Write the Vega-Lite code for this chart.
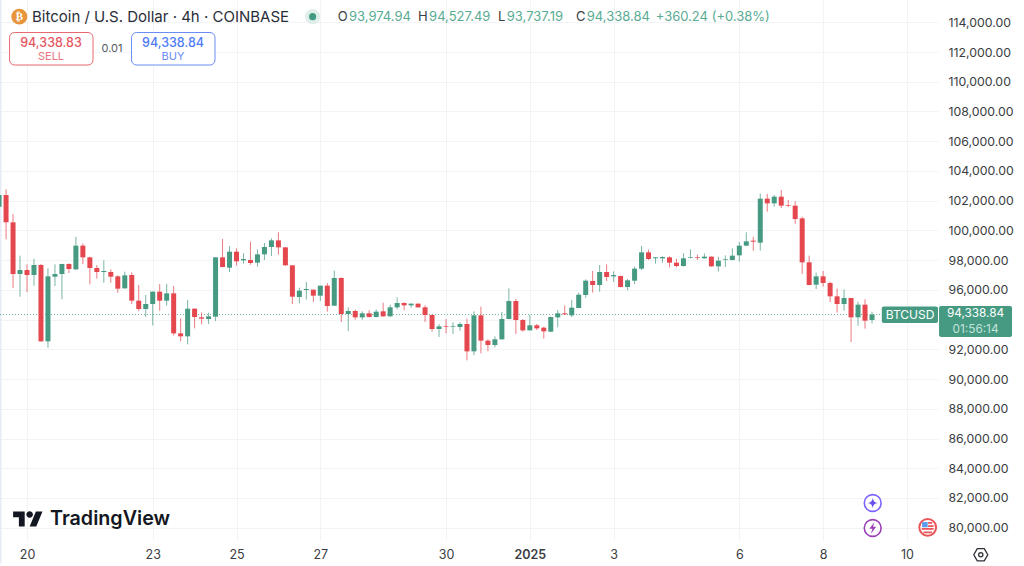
{
"$schema":"https://vega.github.io/schema/vega-lite/v6.json",
"autosize":{"type":"none"},
"padding":{"left":0,"top":0,"right":86,"bottom":26},
"width":938,"height":540,
"background":"white",
"config":{"font":"Inter","view":{"stroke":null}},
"resolve":{"axis":{"y":"independent"}},
"datasets":{"candles":[
{"t":"2024-12-19T08:00:00Z","o":101595,"h":102400,"l":101400,"c":102380},
{"t":"2024-12-19T12:00:00Z","o":102380,"h":102761,"l":99398,"c":100542},
{"t":"2024-12-19T16:00:00Z","o":100542,"h":101102,"l":96124,"c":97066},
{"t":"2024-12-19T20:00:00Z","o":97066,"h":98299,"l":95541,"c":97335},
{"t":"2024-12-20T00:00:00Z","o":97335,"h":97716,"l":95833,"c":96999},
{"t":"2024-12-20T04:00:00Z","o":96999,"h":98097,"l":96281,"c":97671},
{"t":"2024-12-20T08:00:00Z","o":97671,"h":97739,"l":92500,"c":92537},
{"t":"2024-12-20T12:00:00Z","o":92537,"h":97447,"l":92111,"c":96909},
{"t":"2024-12-20T16:00:00Z","o":96887,"h":97716,"l":96259,"c":97066},
{"t":"2024-12-20T20:00:00Z","o":97066,"h":97760,"l":95362,"c":97739},
{"t":"2024-12-21T00:00:00Z","o":97739,"h":97784,"l":97133,"c":97402},
{"t":"2024-12-21T04:00:00Z","o":97380,"h":99577,"l":97335,"c":98972},
{"t":"2024-12-21T08:00:00Z","o":98972,"h":99129,"l":97739,"c":98187},
{"t":"2024-12-21T12:00:00Z","o":98187,"h":98232,"l":96371,"c":97470},
{"t":"2024-12-21T16:00:00Z","o":97470,"h":97671,"l":96752,"c":97201},
{"t":"2024-12-21T20:00:00Z","o":97201,"h":97985,"l":96483,"c":97268},
{"t":"2024-12-22T00:00:00Z","o":97201,"h":97380,"l":96483,"c":96887},
{"t":"2024-12-22T04:00:00Z","o":96909,"h":96976,"l":95810,"c":96079},
{"t":"2024-12-22T08:00:00Z","o":96102,"h":97223,"l":96079,"c":96976},
{"t":"2024-12-22T12:00:00Z","o":96999,"h":97178,"l":95048,"c":95272},
{"t":"2024-12-22T16:00:00Z","o":95272,"h":96326,"l":94577,"c":94712},
{"t":"2024-12-22T20:00:00Z","o":94712,"h":95653,"l":94173,"c":95048},
{"t":"2024-12-23T00:00:00Z","o":95048,"h":95900,"l":93613,"c":95878},
{"t":"2024-12-23T04:00:00Z","o":95878,"h":96393,"l":94599,"c":95272},
{"t":"2024-12-23T08:00:00Z","o":95272,"h":96393,"l":94936,"c":95765},
{"t":"2024-12-23T12:00:00Z","o":95765,"h":96259,"l":92940,"c":93075},
{"t":"2024-12-23T16:00:00Z","o":93075,"h":94084,"l":92537,"c":92873},
{"t":"2024-12-23T20:00:00Z","o":92873,"h":95317,"l":92335,"c":94734},
{"t":"2024-12-24T00:00:00Z","o":94734,"h":94756,"l":93411,"c":94173},
{"t":"2024-12-24T04:00:00Z","o":94151,"h":94487,"l":93680,"c":94061},
{"t":"2024-12-24T08:00:00Z","o":94039,"h":94465,"l":93703,"c":94218},
{"t":"2024-12-24T12:00:00Z","o":94196,"h":98210,"l":93904,"c":98187},
{"t":"2024-12-24T16:00:00Z","o":98187,"h":99420,"l":97514,"c":97537},
{"t":"2024-12-24T20:00:00Z","o":97492,"h":98950,"l":97201,"c":98568},
{"t":"2024-12-25T00:00:00Z","o":98568,"h":98793,"l":97627,"c":97918},
{"t":"2024-12-25T04:00:00Z","o":97985,"h":98456,"l":97761,"c":98075},
{"t":"2024-12-25T08:00:00Z","o":98008,"h":99241,"l":97694,"c":97806},
{"t":"2024-12-25T12:00:00Z","o":97828,"h":98725,"l":97559,"c":98389},
{"t":"2024-12-25T16:00:00Z","o":98389,"h":99151,"l":98008,"c":98882},
{"t":"2024-12-25T20:00:00Z","o":98882,"h":99465,"l":98277,"c":99331},
{"t":"2024-12-26T00:00:00Z","o":99331,"h":99869,"l":98367,"c":98860},
{"t":"2024-12-26T04:00:00Z","o":98860,"h":98880,"l":97627,"c":97650},
{"t":"2024-12-26T08:00:00Z","o":97649,"h":97670,"l":95048,"c":95541},
{"t":"2024-12-26T12:00:00Z","o":95519,"h":96147,"l":95093,"c":95945},
{"t":"2024-12-26T16:00:00Z","o":95990,"h":96528,"l":95340,"c":96057},
{"t":"2024-12-26T20:00:00Z","o":96013,"h":96030,"l":95183,"c":95609},
{"t":"2024-12-27T00:00:00Z","o":95609,"h":96282,"l":95250,"c":96282},
{"t":"2024-12-27T04:00:00Z","o":96282,"h":96461,"l":94533,"c":94914},
{"t":"2024-12-27T08:00:00Z","o":94936,"h":97291,"l":94914,"c":96797},
{"t":"2024-12-27T12:00:00Z","o":96797,"h":96842,"l":93838,"c":94376},
{"t":"2024-12-27T16:00:00Z","o":94376,"h":94824,"l":93232,"c":94578},
{"t":"2024-12-27T20:00:00Z","o":94578,"h":94667,"l":93995,"c":94151},
{"t":"2024-12-28T00:00:00Z","o":94151,"h":94555,"l":93995,"c":94421},
{"t":"2024-12-28T04:00:00Z","o":94421,"h":94622,"l":94151,"c":94174},
{"t":"2024-12-28T08:00:00Z","o":94174,"h":94690,"l":94151,"c":94533},
{"t":"2024-12-28T12:00:00Z","o":94555,"h":95138,"l":94196,"c":94219},
{"t":"2024-12-28T16:00:00Z","o":94219,"h":95004,"l":94200,"c":94824},
{"t":"2024-12-28T20:00:00Z","o":94824,"h":95497,"l":94690,"c":95116},
{"t":"2024-12-29T00:00:00Z","o":95116,"h":95161,"l":94622,"c":94959},
{"t":"2024-12-29T04:00:00Z","o":94959,"h":95093,"l":94802,"c":95071},
{"t":"2024-12-29T08:00:00Z","o":95071,"h":95093,"l":94802,"c":94824},
{"t":"2024-12-29T12:00:00Z","o":94824,"h":94959,"l":93838,"c":94308},
{"t":"2024-12-29T16:00:00Z","o":94308,"h":94353,"l":93187,"c":93367},
{"t":"2024-12-29T20:00:00Z","o":93367,"h":93703,"l":92829,"c":93546},
{"t":"2024-12-30T00:00:00Z","o":93568,"h":94039,"l":93075,"c":93524},
{"t":"2024-12-30T04:00:00Z","o":93524,"h":93815,"l":93030,"c":93568},
{"t":"2024-12-30T08:00:00Z","o":93501,"h":93815,"l":93255,"c":93703},
{"t":"2024-12-30T12:00:00Z","o":93703,"h":94062,"l":91259,"c":91864},
{"t":"2024-12-30T16:00:00Z","o":91864,"h":94555,"l":91595,"c":94286},
{"t":"2024-12-30T20:00:00Z","o":94286,"h":94869,"l":91730,"c":92582},
{"t":"2024-12-31T00:00:00Z","o":92582,"h":92672,"l":91864,"c":92290},
{"t":"2024-12-31T04:00:00Z","o":92290,"h":92873,"l":92133,"c":92672},
{"t":"2024-12-31T08:00:00Z","o":92672,"h":94510,"l":92660,"c":94039},
{"t":"2024-12-31T12:00:00Z","o":94039,"h":96102,"l":94017,"c":95250},
{"t":"2024-12-31T16:00:00Z","o":95250,"h":95385,"l":93030,"c":93972},
{"t":"2024-12-31T20:00:00Z","o":93972,"h":94039,"l":93187,"c":93277},
{"t":"2025-01-01T00:00:00Z","o":93277,"h":94331,"l":93265,"c":93613},
{"t":"2025-01-01T04:00:00Z","o":93613,"h":93703,"l":93299,"c":93412},
{"t":"2025-01-01T08:00:00Z","o":93456,"h":93524,"l":92716,"c":93210},
{"t":"2025-01-01T12:00:00Z","o":93187,"h":94196,"l":93165,"c":94174},
{"t":"2025-01-01T16:00:00Z","o":94151,"h":94645,"l":93479,"c":94421},
{"t":"2025-01-01T20:00:00Z","o":94421,"h":94959,"l":94308,"c":94353},
{"t":"2025-01-02T00:00:00Z","o":94286,"h":95317,"l":94174,"c":94802},
{"t":"2025-01-02T04:00:00Z","o":94779,"h":95811,"l":94770,"c":95676},
{"t":"2025-01-02T08:00:00Z","o":95654,"h":96708,"l":95474,"c":96618},
{"t":"2025-01-02T12:00:00Z","o":96596,"h":97269,"l":95811,"c":96327},
{"t":"2025-01-02T16:00:00Z","o":96327,"h":97672,"l":95878,"c":97201},
{"t":"2025-01-02T20:00:00Z","o":97201,"h":97717,"l":96596,"c":96865},
{"t":"2025-01-03T00:00:00Z","o":96910,"h":97246,"l":96529,"c":96999},
{"t":"2025-01-03T04:00:00Z","o":96932,"h":96955,"l":96170,"c":96192},
{"t":"2025-01-03T08:00:00Z","o":96192,"h":96730,"l":95968,"c":96641},
{"t":"2025-01-03T12:00:00Z","o":96618,"h":97560,"l":96394,"c":97425},
{"t":"2025-01-03T16:00:00Z","o":97425,"h":98950,"l":97336,"c":98524},
{"t":"2025-01-03T20:00:00Z","o":98524,"h":98704,"l":98008,"c":98076},
{"t":"2025-01-04T00:00:00Z","o":98121,"h":98210,"l":97762,"c":98188},
{"t":"2025-01-04T04:00:00Z","o":98121,"h":98255,"l":97829,"c":98210},
{"t":"2025-01-04T08:00:00Z","o":98188,"h":98255,"l":97515,"c":97829},
{"t":"2025-01-04T12:00:00Z","o":97829,"h":98098,"l":97515,"c":97605},
{"t":"2025-01-04T16:00:00Z","o":97605,"h":98457,"l":97560,"c":98121},
{"t":"2025-01-04T20:00:00Z","o":98143,"h":98726,"l":98121,"c":98188},
{"t":"2025-01-05T00:00:00Z","o":98210,"h":98367,"l":98008,"c":98165},
{"t":"2025-01-05T04:00:00Z","o":98121,"h":98457,"l":98098,"c":98233},
{"t":"2025-01-05T08:00:00Z","o":98233,"h":98255,"l":97560,"c":97582},
{"t":"2025-01-05T12:00:00Z","o":97582,"h":98233,"l":97224,"c":97964},
{"t":"2025-01-05T16:00:00Z","o":98031,"h":98322,"l":97538,"c":98076},
{"t":"2025-01-05T20:00:00Z","o":98008,"h":98793,"l":97986,"c":98300},
{"t":"2025-01-06T00:00:00Z","o":98322,"h":99219,"l":97896,"c":98973},
{"t":"2025-01-06T04:00:00Z","o":98973,"h":99870,"l":98950,"c":99264},
{"t":"2025-01-06T08:00:00Z","o":99309,"h":99578,"l":98636,"c":99242},
{"t":"2025-01-06T12:00:00Z","o":99174,"h":102471,"l":98636,"c":102134},
{"t":"2025-01-06T16:00:00Z","o":102134,"h":102448,"l":101260,"c":101820},
{"t":"2025-01-06T20:00:00Z","o":101820,"h":102381,"l":101596,"c":102269},
{"t":"2025-01-07T00:00:00Z","o":102269,"h":102717,"l":101506,"c":101663},
{"t":"2025-01-07T04:00:00Z","o":101708,"h":102045,"l":101574,"c":101663},
{"t":"2025-01-07T08:00:00Z","o":101663,"h":101955,"l":100453,"c":100767},
{"t":"2025-01-07T12:00:00Z","o":100811,"h":100923,"l":97067,"c":97852},
{"t":"2025-01-07T16:00:00Z","o":97852,"h":98300,"l":96305,"c":96327},
{"t":"2025-01-07T20:00:00Z","o":96349,"h":97156,"l":96058,"c":96910},
{"t":"2025-01-08T00:00:00Z","o":96910,"h":97269,"l":96215,"c":96461},
{"t":"2025-01-08T04:00:00Z","o":96461,"h":96551,"l":95183,"c":95564},
{"t":"2025-01-08T08:00:00Z","o":95564,"h":96080,"l":94466,"c":95049},
{"t":"2025-01-08T12:00:00Z","o":95049,"h":96035,"l":94600,"c":95452},
{"t":"2025-01-08T16:00:00Z","o":95452,"h":95470,"l":92492,"c":94152},
{"t":"2025-01-08T20:00:00Z","o":94152,"h":95206,"l":93591,"c":95004},
{"t":"2025-01-09T00:00:00Z","o":95004,"h":95363,"l":93389,"c":93927},
{"t":"2025-01-09T04:00:00Z","o":93974.94,"h":94527.49,"l":93737.19,"c":94338.84}
]},
"encoding":{
"x":{"field":"t","type":"temporal","title":null,
"scale":{"type":"utc","domain":[1734597108000,1736531280000],"padding":0},
"axis":{"values":[1734652800000,1734912000000,1735084800000,1735257600000,1735516800000,1735689600000,1735862400000,1736121600000,1736294400000,1736467200000],
"labelExpr":"utcdate(datum.value)==1 ? '2025' : utcFormat(datum.value,'%-d')",
"labelFontWeight":{"condition":{"test":"utcdate(datum.value)==1","value":600},"value":400},
"domain":false,"ticks":false,"labelPadding":8,"labelFontSize":12.5,"labelColor":"#3a3d42","gridColor":"#f2f3f6","grid":true,"labelFlush":false,"labelOverlap":false}}
},
"layer":[
{"data":{"values":[{"t":"2024-12-19T08:32:00Z","p":115499,"p2":77600}]},"mark":{"type":"rule","color":"#e6ebf5","strokeWidth":3},
"encoding":{"y":{"field":"p","type":"quantitative","title":null,
"scale":{"domain":[79173,115499],"nice":false,"zero":false,"padding":0},
"axis":{"orient":"right","values":[80000,82000,84000,86000,88000,90000,92000,94000,96000,98000,100000,102000,104000,106000,108000,110000,112000,114000],"labelExpr":"datum.value==94000 ? '' : format(datum.value,',.2f')","domain":false,"ticks":false,"labelPadding":10,"labelFontSize":12.3,"labelColor":"#3a3d42","gridColor":"#f2f3f6","grid":true,"labelOverlap":false}},"y2":{"field":"p2"}}},
{"data":{"values":[{"t":"2024-12-19T08:32:00Z","t2":"2025-01-09T09:42:00Z","p":94338.84}]},"mark":{"type":"rule","color":"#469a82","strokeWidth":1,"strokeDash":[1,2],"opacity":0.8},
"encoding":{"x2":{"field":"t2"},"y":{"field":"p","type":"quantitative","axis":null}}},
{"data":{"name":"candles"},"mark":{"type":"rule","strokeWidth":1,"opacity":0.72},
"encoding":{"y":{"field":"h","type":"quantitative","axis":null},"y2":{"field":"l"},
"color":{"condition":{"test":"datum.c>=datum.o","value":"#469a82"},"value":"#e5474f"}}},
{"data":{"name":"candles"},"mark":{"type":"bar","size":5},
"encoding":{"y":{"field":"o","type":"quantitative","axis":null},"y2":{"field":"c"},
"color":{"condition":{"test":"datum.c>=datum.o","value":"#469a82"},"value":"#e5474f"}}},
{"data":{"values":[{"t":"2024-12-19T14:00:00Z","t2":"2024-12-21T13:48:00Z","p":113312,"p2":111126}]},"mark":{"type":"rect","fill":"white","stroke":"#e8696f","strokeWidth":1,"cornerRadius":5},
"encoding":{"x2":{"field":"t2"},"y":{"field":"p","type":"quantitative","axis":null},"y2":{"field":"p2"}}},
{"data":{"values":[{"t":"2024-12-22T11:52:00Z","t2":"2024-12-24T11:41:00Z","p":113312,"p2":111126}]},"mark":{"type":"rect","fill":"white","stroke":"#6a8df7","strokeWidth":1,"cornerRadius":5},
"encoding":{"x2":{"field":"t2"},"y":{"field":"p","type":"quantitative","axis":null},"y2":{"field":"p2"}}},
{"data":{"values":[{"t":"2025-01-09T09:36:00Z","t2":"2025-01-10T17:48:00Z","p":94880,"p2":93770},{"t":"2025-01-10T18:24:00Z","t2":"2025-01-12T12:12:00Z","p":94914,"p2":92828}]},"mark":{"type":"rect","fill":"#469a82","cornerRadius":2},
"encoding":{"x2":{"field":"t2"},"y":{"field":"p","type":"quantitative","axis":null},"y2":{"field":"p2"}}},
{"data":{"values":[{"t":"2024-12-20T02:52:00Z","p":114380,"label":"Bitcoin / U.S. Dollar · 4h · COINBASE"}]},"mark":{"type":"text","align":"left","baseline":"middle","fontSize":15,"color":"#2a2e39","font":"Inter"},
"encoding":{"y":{"field":"p","type":"quantitative","axis":null},"text":{"field":"label"}}},
{"data":{"values":[{"t":"2024-12-27T10:00:00Z","p":114355,"label":"O"},{"t":"2024-12-29T08:00:00Z","p":114355,"label":"H"},{"t":"2024-12-31T05:48:00Z","p":114355,"label":"L"},{"t":"2025-01-02T02:30:00Z","p":114355,"label":"C"}]},"mark":{"type":"text","align":"left","baseline":"middle","fontSize":13,"color":"#3a3d42","font":"Inter"},
"encoding":{"y":{"field":"p","type":"quantitative","axis":null},"text":{"field":"label"}}},
{"data":{"values":[{"t":"2024-12-27T16:24:00Z","p":114355,"label":"93,974.94"},{"t":"2024-12-29T14:18:00Z","p":114355,"label":"94,527.49"},{"t":"2024-12-31T10:48:00Z","p":114355,"label":"93,737.19"},{"t":"2025-01-02T08:36:00Z","p":114355,"label":"94,338.84"},{"t":"2025-01-04T00:06:00Z","p":114355,"label":"+360.24 (+0.38%)"}]},"mark":{"type":"text","align":"left","baseline":"middle","fontSize":13,"color":"#5aab93","font":"Inter"},
"encoding":{"y":{"field":"p","type":"quantitative","axis":null},"text":{"field":"label"}}},
{"data":{"values":[{"t":"2024-12-20T13:45:00Z","p":112606,"label":"94,338.83"}]},"mark":{"type":"text","align":"center","baseline":"middle","fontSize":12.5,"fontWeight":500,"color":"#e5575f"},
"encoding":{"y":{"field":"p","type":"quantitative","axis":null},"text":{"field":"label"}}},
{"data":{"values":[{"t":"2024-12-20T13:45:00Z","p":111664,"label":"SELL"}]},"mark":{"type":"text","align":"center","baseline":"middle","fontSize":11,"color":"#e8757b"},
"encoding":{"y":{"field":"p","type":"quantitative","axis":null},"text":{"field":"label"}}},
{"data":{"values":[{"t":"2024-12-23T11:38:00Z","p":112606,"label":"94,338.84"}]},"mark":{"type":"text","align":"center","baseline":"middle","fontSize":12.5,"fontWeight":500,"color":"#4f7cf6"},
"encoding":{"y":{"field":"p","type":"quantitative","axis":null},"text":{"field":"label"}}},
{"data":{"values":[{"t":"2024-12-23T11:38:00Z","p":111664,"label":"BUY"}]},"mark":{"type":"text","align":"center","baseline":"middle","fontSize":11,"color":"#6a8df7"},
"encoding":{"y":{"field":"p","type":"quantitative","axis":null},"text":{"field":"label"}}},
{"data":{"values":[{"t":"2024-12-22T00:42:00Z","p":112203,"label":"0.01"}]},"mark":{"type":"text","align":"center","baseline":"middle","fontSize":11,"color":"#555a62"},
"encoding":{"y":{"field":"p","type":"quantitative","axis":null},"text":{"field":"label"}}},
{"data":{"values":[{"t":"2025-01-10T01:48:00Z","p":94325,"label":"BTCUSD"}]},"mark":{"type":"text","align":"center","baseline":"middle","fontSize":12,"color":"white"},
"encoding":{"y":{"field":"p","type":"quantitative","axis":null},"text":{"field":"label"}}},
{"data":{"values":[{"t":"2025-01-11T15:18:00Z","p":94430,"label":"94,338.84"}]},"mark":{"type":"text","align":"center","baseline":"middle","fontSize":11.8,"color":"white"},
"encoding":{"y":{"field":"p","type":"quantitative","axis":null},"text":{"field":"label"}}},
{"data":{"values":[{"t":"2025-01-11T15:18:00Z","p":93380,"label":"01:56:14"}]},"mark":{"type":"text","align":"center","baseline":"middle","fontSize":11.8,"color":"#c5e3da"},
"encoding":{"y":{"field":"p","type":"quantitative","axis":null},"text":{"field":"label"}}},
{"data":{"values":[{"t":"2024-12-19T19:36:00Z","p":114380}]},"mark":{"type":"circle","size":254,"color":"#e8943a","opacity":1},
"encoding":{"y":{"field":"p","type":"quantitative","axis":null}}},
{"data":{"values":[{"t":"2024-12-19T19:36:00Z","p":114380,"label":"₿"}]},"mark":{"type":"text","align":"center","baseline":"middle","fontSize":11,"fontWeight":"bold","color":"white","font":"DejaVu Sans"},
"encoding":{"y":{"field":"p","type":"quantitative","axis":null},"text":{"field":"label"}}},
{"data":{"values":[{"t":"2024-12-26T19:36:00Z","p":114380}]},"mark":{"type":"circle","size":227,"color":"#dfeee9","opacity":1},
"encoding":{"y":{"field":"p","type":"quantitative","axis":null}}},
{"data":{"values":[{"t":"2024-12-26T19:36:00Z","p":114380}]},"mark":{"type":"circle","size":50,"color":"#439a82","opacity":1},
"encoding":{"y":{"field":"p","type":"quantitative","axis":null}}},
{"data":{"values":[{"t":"2024-12-20T00:34:00Z","p":80585}]},"mark":{"type":"point","filled":true,"opacity":1,"color":"#131722","size":888,"shape":"M-0.222 0.5H-0.611V-0.111H-1V-0.5H-0.222ZM0.556 0.5H0.111L0.528 -0.5H0.972ZM-0.111 -0.306a0.222 0.222 0 1 0 0.444 0a0.222 0.222 0 1 0 -0.444 0Z"},
"encoding":{"y":{"field":"p","type":"quantitative","axis":null}}},
{"data":{"values":[{"t":"2024-12-20T13:12:00Z","p":80585,"label":"TradingView"}]},"mark":{"type":"text","align":"left","baseline":"middle","fontSize":19.7,"fontWeight":600,"color":"#131722","font":"Inter"},
"encoding":{"y":{"field":"p","type":"quantitative","axis":null},"text":{"field":"label"}}},
{"data":{"values":[{"t":"2025-01-09T04:24:00Z","p":81662}]},"mark":{"type":"point","filled":false,"fill":"white","opacity":1,"stroke":"#7b61ff","strokeWidth":1.6,"size":283,"shape":"circle"},
"encoding":{"y":{"field":"p","type":"quantitative","axis":null}}},
{"data":{"values":[{"t":"2025-01-09T04:24:00Z","p":81662}]},"mark":{"type":"point","filled":true,"opacity":1,"color":"#6a4ff0","size":110,"shape":"M0 -1C.12 -.3 .3 -.12 1 0C.3 .12 .12 .3 0 1C-.12 .3 -.3 .12 -1 0C-.3 -.12 -.12 -.3 0 -1Z"},
"encoding":{"y":{"field":"p","type":"quantitative","axis":null}}},
{"data":{"values":[{"t":"2025-01-09T04:24:00Z","p":79980}]},"mark":{"type":"point","filled":false,"fill":"white","opacity":1,"stroke":"#9a3fb5","strokeWidth":1.6,"size":283,"shape":"circle"},
"encoding":{"y":{"field":"p","type":"quantitative","axis":null}}},
{"data":{"values":[{"t":"2025-01-09T04:24:00Z","p":79980}]},"mark":{"type":"point","filled":true,"opacity":1,"color":"#9a3fb5","size":130,"shape":"M.3 -1L-.6 .15H-.05L-.3 1L.6 -.2H.05Z"},
"encoding":{"y":{"field":"p","type":"quantitative","axis":null}}},
{"data":{"values":[{"t":"2025-01-10T11:54:00Z","p":80027}]},"mark":{"type":"point","filled":false,"fill":"white","opacity":1,"stroke":"#e8565a","strokeWidth":2,"size":283,"shape":"circle"},
"encoding":{"y":{"field":"p","type":"quantitative","axis":null}}},
{"data":{"values":[{"t":"2025-01-10T11:54:00Z","p":80027}]},"mark":{"type":"point","filled":true,"opacity":1,"color":"#e8565a","size":196,"shape":"M-.85 .1H.85V.35H-.85ZM-.6 .6H.6V.85H-.6ZM.05 -.75H.65V-.5H.05ZM.05 -.3H.85V-.05H.05Z"},
"encoding":{"y":{"field":"p","type":"quantitative","axis":null}}},
{"data":{"values":[{"t":"2025-01-10T11:54:00Z","p":80027}]},"mark":{"type":"point","filled":true,"opacity":1,"color":"#5b9bea","size":196,"shape":"M-.8 -.75H0V0H-.8Z"},
"encoding":{"y":{"field":"p","type":"quantitative","axis":null}}},
{"data":{"values":[{"t":"2025-01-11T18:18:00Z","p":78184}]},"mark":{"type":"point","filled":false,"opacity":1,"stroke":"#2e3138","strokeWidth":1.3,"size":196,"shape":"M-1 0L-.5 -.87H.5L1 0L.5 .87H-.5Z"},
"encoding":{"y":{"field":"p","type":"quantitative","axis":null}}},
{"data":{"values":[{"t":"2025-01-11T18:18:00Z","p":78184}]},"mark":{"type":"point","filled":false,"opacity":1,"stroke":"#2e3138","strokeWidth":1.3,"size":18,"shape":"circle"},
"encoding":{"y":{"field":"p","type":"quantitative","axis":null}}}
]
}
